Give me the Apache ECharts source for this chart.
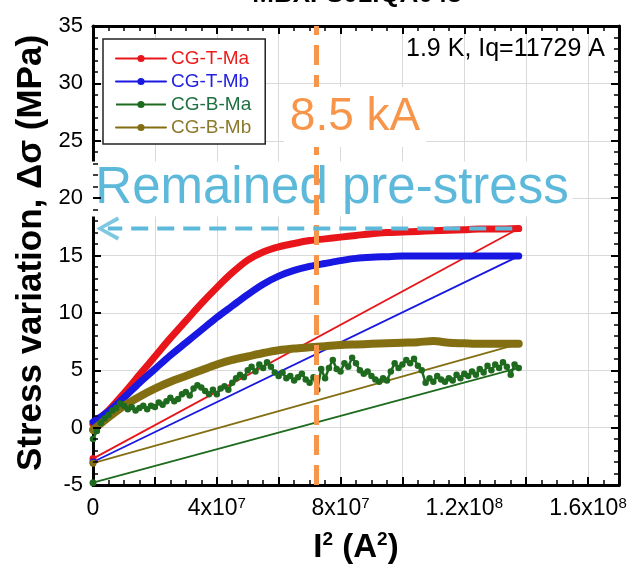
<!DOCTYPE html>
<html>
<head>
<meta charset="utf-8">
<script src="https://cdn.jsdelivr.net/npm/echarts@6/dist/echarts.min.js"></script>
<style>
  html, body { margin: 0; padding: 0; background: #fff; }
  #chart { width: 632px; height: 567px; }
</style>
</head>
<body>
<div id="chart"></div>
<script>
// I^2 sample positions (A^2) for the strain-gauge curves
const curveX = [0, 5e6, 10e6, 15e6, 20e6, 25e6, 30e6, 35e6, 40e6, 45e6, 50e6, 55e6, 60e6, 65e6,
  70e6, 75e6, 80e6, 85e6, 90e6, 95e6, 100e6, 105e6, 110e6, 115e6, 120e6, 125e6, 130e6, 137.6e6];

// Stress variation (MPa) per gauge
const cgTMa = [0.3, 1.5, 3.0, 4.6, 6.2, 7.8, 9.3, 10.8, 12.2, 13.5, 14.6, 15.3, 15.75, 16.05,
  16.3, 16.45, 16.6, 16.75, 16.9, 17.0, 17.05, 17.1, 17.15, 17.2, 17.25, 17.3, 17.3, 17.35];
const cgTMb = [0.5, 1.4, 2.6, 3.9, 5.1, 6.3, 7.4, 8.5, 9.6, 10.6, 11.6, 12.5, 13.2, 13.7,
  14.05, 14.3, 14.55, 14.75, 14.85, 14.9, 14.95, 14.95, 14.95, 14.95, 14.95, 14.95, 14.95, 14.95];
const cgBMb = [-0.2, 0.9, 1.9, 2.7, 3.4, 4.0, 4.5, 5.0, 5.5, 5.9, 6.2, 6.5, 6.75, 6.9,
  7.0, 7.1, 7.2, 7.25, 7.3, 7.35, 7.4, 7.45, 7.55, 7.4, 7.35, 7.3, 7.3, 7.3];

// CG-B-Ma is noisier, sampled more finely (I^2 in units of 1e6 A^2)
const greenXm = [0, 1.25, 2.5, 3.75, 5, 6.25, 7.5, 8.75, 10, 11.25, 12.5, 13.75, 15, 16.25,
  17.5, 18.75, 20, 21.25, 22.5, 23.75, 25, 26.25, 27.5, 28.75, 30, 31.25, 32.5, 33.75,
  35, 36.25, 37.5, 38.75, 40, 41.25, 42.5, 43.75, 45, 46.25, 47.5, 48.75, 50, 51.25,
  52.5, 53.75, 55, 56.25, 57.5, 58.75, 60, 61.25, 62.5, 63.75, 65, 66.25, 67.5, 68.75,
  70, 71.25, 72.5, 73.75, 75, 76.25, 77.5, 78.75, 80, 81.25, 82.5, 83.75, 85, 86.25,
  87.5, 88.75, 90, 91.25, 92.5, 93.75, 95, 96.25, 97.5, 98.75, 100, 101.25, 102.5, 103.75,
  105, 106.25, 107.5, 108.75, 110, 111.25, 112.5, 113.75, 115, 116.25, 117.5, 118.75,
  120, 121.25, 122.5, 123.75, 125, 126.25, 127.5, 128.75, 130, 131.25, 132.5, 133.75,
  135, 136.25, 137.6];
const cgBMa = [-1.0, -0.3, 0.4, 0.8, 1.1, 1.5, 1.7, 2.1, 1.9, 1.6, 1.8, 1.5, 1.7, 1.9,
  1.6, 1.9, 1.8, 2.2, 2.0, 2.3, 2.6, 2.3, 2.5, 2.9, 3.1, 2.8, 3.4, 3.7,
  3.5, 3.2, 2.9, 3.3, 2.9, 3.4, 3.6, 3.3, 3.9, 4.3, 4.6, 4.4, 5.0, 5.3,
  4.9, 5.5, 5.2, 5.7, 5.3, 4.8, 4.5, 4.8, 4.3, 4.5, 4.1, 4.4, 4.7, 4.2,
  3.9, 4.4, 3.3, 5.1, 4.3, 5.2, 5.9, 5.1, 4.9, 5.6, 5.3, 6.1, 5.6, 5.0,
  4.7, 4.9, 4.5, 4.2, 4.0, 4.3, 4.1, 4.9, 5.6, 5.2, 5.5, 5.9, 5.6, 6.0,
  5.4, 5.0, 3.9, 4.3, 4.0, 4.5, 4.2, 4.0, 4.3, 4.1, 4.6, 4.3,
  4.7, 4.5, 4.9, 4.6, 5.1, 4.8, 5.4, 5.0, 5.5, 5.2, 5.7, 5.3,
  4.6, 5.5, 5.2];

// Straight load lines: [I^2, stress] at start and end
const lineX = [0, 137.6e6];
const fitTMa = [-2.7, 17.35];
const fitTMb = [-3.0, 14.95];
const fitBMb = [-3.1, 7.3];
const fitBMa = [-4.8, 5.2];

// Reference markers
const currentSq = 7.225e7;       // (8.5 kA)^2
const preStress = 17.35;          // MPa
const arrowFromX = 135.5e6;
const arrowHeadX = 4.8e6;

// Axis ranges, tick labels and tick-mark positions
const xRange = [0, 1.7e8];
const yRange = [-5, 35];
const xTickValues = [0, 4e7, 8e7, 1.2e8, 1.6e8];
const xTickText = [['0', ''], ['4x10', '7'], ['8x10', '7'], ['1.2x10', '8'], ['1.6x10', '8']];
const yTicks = [-5, 0, 5, 10, 15, 20, 25, 30, 35];
// tick marks along the frame: x in units of 1e6 A^2 (major every 20), y in MPa (major every 5)
const xTickMarksM = [5, 10, 15, 20, 25, 30, 35, 40, 45, 50, 55, 60, 65, 70, 75, 80, 85,
  90, 95, 100, 105, 110, 115, 120, 125, 130, 135, 140, 145, 150, 155, 160, 165];
const yTickMarks = [-4, -3, -2, -1, 0, 1, 2, 3, 4, 5, 6, 7, 8, 9, 10, 11, 12, 13, 14, 15,
  16, 17, 18, 19, 20, 21, 22, 23, 24, 25, 26, 27, 28, 29, 30, 31, 32, 33, 34];

const FONT = '"Liberation Sans", Arial, sans-serif';
const C = {
  red: '#E8161B', blue: '#1818E2', green: '#1E6A1E', olive: '#836F12',
  orange: '#F7964A', sky: '#5DB9DA', grid: '#D9D9D9'
};

// plot box (px) inside the 632 x 567 canvas
const GRID = { left: 93, right: 13, top: 26, bottom: 82 };
const plotW = 632 - GRID.left - GRID.right;
const plotH = 567 - GRID.top - GRID.bottom;
// tick lengths expressed in axis units
const xPerPx = (xRange[1] - xRange[0]) / plotW;
const yPerPx = (yRange[1] - yRange[0]) / plotH;

const pairs = (xs, ys) => xs.map((x, i) => [x, ys[i]]);

const axisFrame = { show: true, onZero: false, lineStyle: { color: '#000', width: 3 } };

function fitSeries(name, ys, color) {
  return {
    name, type: 'line', data: pairs(lineX, ys), z: 1,
    symbol: 'circle', symbolSize: (v, p) => (p.dataIndex === 0 ? 7 : 0),
    itemStyle: { color }, lineStyle: { color, width: 1.8 }, silent: true
  };
}

function bandSeries(name, xs, ys, color, width) {
  return {
    name, type: 'line', data: pairs(xs, ys), z: 3,
    symbol: 'circle', showSymbol: false, smooth: 0.3,
    itemStyle: { color }, lineStyle: { color, width, cap: 'round', join: 'round' }, silent: true
  };
}

// inward frame ticks as short segments in data coordinates
const tickSegments = [];
xTickMarksM.forEach(m => {
  const v = m * 1e6;
  const major = m % 20 === 0;
  const len = (major ? 8 : 5) * yPerPx;
  const ls = { color: '#000', width: major ? 2 : 1.5, type: 'solid' };
  tickSegments.push([{ coord: [v, yRange[0]], lineStyle: ls }, { coord: [v, yRange[0] + len] }]);
  tickSegments.push([{ coord: [v, yRange[1]], lineStyle: ls }, { coord: [v, yRange[1] - len] }]);
});
yTickMarks.forEach(v => {
  const major = v % 5 === 0;
  const len = (major ? 8 : 5) * xPerPx;
  const ls = { color: '#000', width: major ? 2 : 1.5, type: 'solid' };
  tickSegments.push([{ coord: [xRange[0], v], lineStyle: ls }, { coord: [xRange[0] + len, v] }]);
  tickSegments.push([{ coord: [xRange[1], v], lineStyle: ls }, { coord: [xRange[1] - len, v] }]);
});

// open chevron, drawn pointing up and rotated to point left
const chevron = 'path://M12,0 L24,21 L20.5,23 L12,7 L3.5,23 L0,21 Z';

const option = {
  animation: false,
  backgroundColor: '#fff',
  grid: { ...GRID, containLabel: false },
  xAxis: [
    {
      type: 'value', min: xRange[0], max: xRange[1], interval: 2e7, position: 'bottom',
      axisLine: axisFrame, axisTick: { show: false }, minorTick: { show: false },
      splitLine: { show: true, lineStyle: { color: C.grid, width: 1 } },
      axisLabel: {
        margin: 11, color: '#000',
        formatter: v => {
          const i = xTickValues.indexOf(v);
          if (i < 0) return '';
          const t = xTickText[i];
          return t[1] ? '{b|' + t[0] + '}{s|' + t[1] + '}' : '{b|' + t[0] + '}';
        },
        rich: {
          b: { fontFamily: FONT, fontSize: 23, color: '#000', lineHeight: 25 },
          s: { fontFamily: FONT, fontSize: 15, color: '#000', verticalAlign: 'top', lineHeight: 15 }
        }
      }
    },
    {
      type: 'value', min: xRange[0], max: xRange[1], interval: 2e7, position: 'top',
      axisLine: axisFrame, axisTick: { show: false }, minorTick: { show: false },
      axisLabel: { show: false }, splitLine: { show: false }
    }
  ],
  yAxis: [
    {
      type: 'value', min: yRange[0], max: yRange[1], interval: 5, position: 'left',
      axisLine: axisFrame, axisTick: { show: false }, minorTick: { show: false },
      splitLine: { show: true, lineStyle: { color: C.grid, width: 1 } },
      axisLabel: {
        margin: 10, color: '#000', fontFamily: FONT, fontSize: 22,
        formatter: v => (yTicks.includes(v) ? String(v) : '')
      }
    },
    {
      type: 'value', min: yRange[0], max: yRange[1], interval: 5, position: 'right',
      axisLine: axisFrame, axisTick: { show: false }, minorTick: { show: false },
      axisLabel: { show: false }, splitLine: { show: false }
    }
  ],
  legend: {
    orient: 'vertical', left: 103, top: 39,
    backgroundColor: '#fff', borderColor: '#222', borderWidth: 1.5,
    padding: [10, 14, 7, 12], itemGap: 4, itemWidth: 50, itemHeight: 9,
    lineStyle: { width: 2 },
    textStyle: { fontFamily: FONT, fontSize: 19 },
    data: [
      { name: 'CG-T-Ma', textStyle: { color: '#EE1A1A' } },
      { name: 'CG-T-Mb', textStyle: { color: '#2222E0' } },
      { name: 'CG-B-Ma', textStyle: { color: '#1E7040' } },
      { name: 'CG-B-Mb', textStyle: { color: '#8C7A2C' } }
    ],
    selectedMode: false
  },
  series: [
    fitSeries('fit T-Ma', fitTMa, C.red),
    fitSeries('fit T-Mb', fitTMb, C.blue),
    fitSeries('fit B-Mb', fitBMb, C.olive),
    fitSeries('fit B-Ma', fitBMa, C.green),
    bandSeries('CG-T-Ma', curveX, cgTMa, C.red, 7),
    bandSeries('CG-T-Mb', curveX, cgTMb, C.blue, 7),
    {
      name: 'CG-B-Ma', type: 'line', data: pairs(greenXm.map(v => v * 1e6), cgBMa), z: 3,
      symbol: 'circle', symbolSize: 6.5, showSymbol: true,
      itemStyle: { color: C.green }, lineStyle: { color: C.green, width: 2.5 }, silent: true
    },
    bandSeries('CG-B-Mb', curveX, cgBMb, C.olive, 8),
    {
      name: 'frame ticks', type: 'line', data: [], z: 7, silent: true,
      markLine: {
        silent: true, symbol: 'none', label: { show: false }, emphasis: { disabled: true },
        data: tickSegments
      }
    },
    {
      name: 'current line', type: 'line', data: [], z: 5, silent: true,
      markLine: {
        silent: true, symbol: 'none', label: { show: false },
        data: [{ xAxis: currentSq, lineStyle: { color: C.orange, width: 5, type: [20, 10] } }]
      }
    },
    {
      name: 'pre-stress level', type: 'line', data: pairs([arrowFromX, arrowHeadX], [preStress, preStress]),
      z: 6, silent: true, showSymbol: false, symbol: 'none',
      lineStyle: { color: C.sky, width: 4, type: [17, 9] }
    },
    {
      name: 'pre-stress arrow', type: 'scatter', data: [[arrowHeadX, preStress]], z: 6, silent: true,
      symbol: chevron, symbolSize: [24, 24], symbolRotate: 90, symbolKeepAspect: true,
      itemStyle: { color: C.sky }
    }
  ],
  graphic: [
    {
      type: 'text', x: 357, y: 8, z: 10,
      style: { text: 'MBXFS01.QA043', textAlign: 'center', textVerticalAlign: 'bottom',
        fontFamily: FONT, fontWeight: 'bold', fontSize: 26, fill: '#000' }
    },
    {
      type: 'text', x: 31, y: 253, rotation: Math.PI / 2, z: 10,
      style: { text: 'Stress variation, Δσ (MPa)', textAlign: 'center', textVerticalAlign: 'middle',
        fontFamily: FONT, fontWeight: 'bold', fontSize: 35, fill: '#000' }
    },
    {
      type: 'text', x: 356, y: 548, z: 10,
      style: {
        text: '{b|I}{s|2}{b| (A}{s|2}{b|)}', textAlign: 'center', textVerticalAlign: 'middle',
        rich: {
          b: { fontFamily: FONT, fontWeight: 'bold', fontSize: 33, fill: '#000', lineHeight: 35 },
          s: { fontFamily: FONT, fontWeight: 'bold', fontSize: 19, fill: '#000', verticalAlign: 'top', lineHeight: 19 }
        }
      }
    },
    {
      type: 'text', x: 605, y: 49, z: 10,
      style: { text: '1.9 K, Iq=11729 A', textAlign: 'right', textVerticalAlign: 'middle',
        fontFamily: FONT, fontSize: 25, fill: '#000' }
    },
    {
      type: 'text', x: 355, y: 117, z: 20,
      style: { text: '8.5 kA', textAlign: 'center', textVerticalAlign: 'middle',
        fontFamily: FONT, fontSize: 46, fill: C.orange, backgroundColor: '#fff', padding: [7, 6, 7, 6] }
    },
    {
      type: 'text', x: 332, y: 189, z: 1,
      style: { text: 'Remained pre-stress', textAlign: 'center', textVerticalAlign: 'middle',
        fontFamily: FONT, fontSize: 51, fill: C.sky, backgroundColor: '#fff', padding: [2, 4, 2, 4] }
    }
  ]
};

const chart = echarts.init(document.getElementById('chart'));
chart.setOption(option);
</script>
</body>
</html>
